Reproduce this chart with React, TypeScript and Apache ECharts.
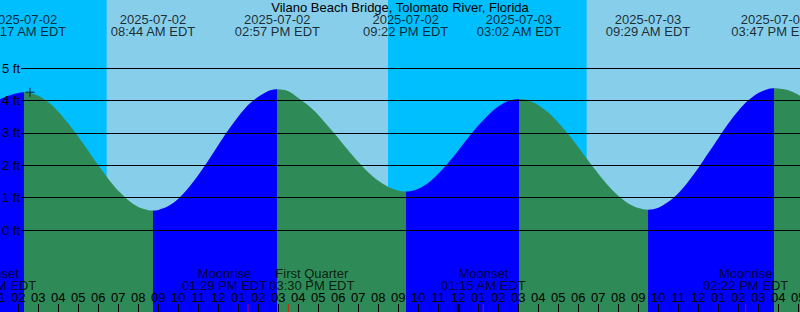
import React, { useEffect, useRef } from 'react';
import * as echarts from 'echarts';

const TITLE = 'Vilano Beach Bridge, Tolomato River, Florida';

// Tide extremes (local time EDT) and heights in ft
const tideTimes = [
  '2025-07-02 02:17', '2025-07-02 08:44', '2025-07-02 14:57', '2025-07-02 21:22',
  '2025-07-03 03:02', '2025-07-03 09:29', '2025-07-03 15:47',
];
const tideLevels = [4.26, 0.6, 4.35, 1.19, 4.05, 0.63, 4.38];
const tideKinds = ['H', 'L', 'H', 'L', 'H', 'L', 'H'];

// Curve samples: hours since 2025-07-02 00:00, height in ft
const curveHours = [
  1.0, 1.5, 2.0,
  2.5, 3.0, 3.5, 4.0, 4.5, 5.0, 5.5, 6.0, 6.5, 7.0, 7.5, 8.0, 8.5,
  9.0, 9.5, 10.0, 10.5, 11.0, 11.5, 12.0, 12.5, 13.0, 13.5, 14.0, 14.5,
  15.5, 16.0, 16.5, 17.0, 17.5, 18.0, 18.5, 19.0, 19.5, 20.0, 20.5, 21.0,
  21.8, 22.2, 22.6, 23.0, 23.5, 24.0, 24.5, 25.0, 25.5, 26.0, 26.5,
  27.5, 28.0, 28.5, 29.0, 29.5, 30.0, 30.5, 31.0, 31.5, 32.0, 32.5, 33.0,
  34.0, 34.5, 35.0, 35.5, 36.0, 36.5, 37.0, 37.5, 38.0, 38.5, 39.0, 39.5,
  40.2, 40.6, 41.0, 41.5, 42.0,
];
const curveLevels = [
  4.02, 4.15, 4.24,
  4.25, 4.15, 3.95, 3.66, 3.29, 2.88, 2.44, 2.0, 1.58, 1.21, 0.92, 0.71, 0.61,
  0.62, 0.74, 0.97, 1.3, 1.7, 2.15, 2.63, 3.09, 3.51, 3.87, 4.12, 4.3,
  4.29, 4.08, 3.85, 3.56, 3.2, 2.84, 2.46, 2.1, 1.78, 1.52, 1.33, 1.22,
  1.23, 1.34, 1.51, 1.74, 2.08, 2.46, 2.86, 3.23, 3.56, 3.82, 3.99,
  4.01, 3.86, 3.63, 3.32, 2.96, 2.56, 2.14, 1.74, 1.37, 1.06, 0.82, 0.68,
  0.69, 0.87, 1.14, 1.5, 1.92, 2.38, 2.84, 3.29, 3.69, 4.01, 4.24, 4.36,
  4.36, 4.3, 4.18, 4.0, 3.78,
];

// Moon events
const moonTimes = ['2025-07-02 00:47', '2025-07-02 13:29', '2025-07-02 15:30', '2025-07-03 01:15', '2025-07-03 14:22'];
const moonNames = ['Moonset', 'Moonrise', 'First Quarter', 'Moonset', 'Moonrise'];

// Night intervals (sunset -> sunrise)
const nightStarts = ['2025-07-01 20:29', '2025-07-02 20:29'];
const nightEnds = ['2025-07-02 06:25', '2025-07-03 06:25'];

// Day boundaries
const midnights = ['2025-07-03 00:00'];

// Marker cross
const markTime = '2025-07-02 02:35';
const markLevel = 4.26;

// Height axis range (ft)
const ftMin = 0;
const ftMax = 5;

const FONT = '"Liberation Sans", Arial, sans-serif';
const DAY = '#87CEEB';
const NIGHT = '#00BFFF';
const RISE = '#0000FF';
const FALL = '#2E8B57';

const X_MIN = 1;
const X_MAX = 42;
const Y_MIN = -2.536;
const Y_MAX = 7.113;

function hoursOf(s: string): number {
  const [d, t] = s.split(' ');
  const day = parseInt(d.split('-')[2], 10);
  const [hh, mm] = t.split(':').map((v) => parseInt(v, 10));
  return (day - 2) * 24 + hh + mm / 60;
}
function pad2(n: number) {
  return String(n).padStart(2, '0');
}
function fmt12(s: string): string {
  const t = s.split(' ')[1];
  const [hh, mm] = t.split(':').map((v) => parseInt(v, 10));
  const h12 = hh % 12 || 12;
  return `${pad2(h12)}:${pad2(mm)} ${hh < 12 ? 'AM' : 'PM'} EDT`;
}

export default function App() {
  const ref = useRef<HTMLDivElement>(null);
  useEffect(() => {
    document.body.style.margin = '0';
    if (!ref.current) return;
    const chart = echarts.init(ref.current, undefined, { renderer: 'svg' });

    const tideHours = tideTimes.map(hoursOf);
    const pts: number[][] = [];
    curveHours.forEach((h, i) => pts.push([h, curveLevels[i]]));
    tideHours.forEach((h, i) => pts.push([h, tideLevels[i]]));
    pts.sort((a, b) => a[0] - b[0]);

    const pieces: any[] = [];
    tideHours.forEach((h, i) => {
      const color = tideKinds[i] === 'H' ? RISE : FALL;
      if (i === 0) pieces.push({ lt: h, color });
      else pieces.push({ gte: tideHours[i - 1], lt: h, color });
    });
    pieces.push({
      gte: tideHours[tideHours.length - 1],
      color: tideKinds[tideKinds.length - 1] === 'H' ? FALL : RISE,
    });

    const tideLabels = tideTimes.map((s) => `${s.split(' ')[0]}\n${fmt12(s)}`);
    const moonLabels = moonTimes.map((s, i) => `${moonNames[i]}\n${fmt12(s)}`);
    const moonHours = moonTimes.map(hoursOf);

    const labelStyle = {
      show: true,
      align: 'center',
      fontSize: 13,
      lineHeight: 12,
      color: '#000',
      fontFamily: FONT,
    };

    const buildMoonData = (offsets: number[]) =>
      moonHours.map((h, i) => ({ value: [h, Y_MIN], label: { offset: [offsets[i], 0] } }));

    const option: any = {
      animation: false,
      backgroundColor: DAY,
      textStyle: { fontFamily: FONT },
      title: {
        text: TITLE,
        left: 'center',
        top: 1,
        padding: 0,
        textStyle: { fontSize: 13, fontWeight: 'normal', color: '#000', lineHeight: 12, fontFamily: FONT },
      },
      grid: [
        { left: -1.667, right: -18.333, top: 0, bottom: 0, containLabel: false, outerBoundsMode: 'none' },
        { left: 21, right: 0, top: 68.33, bottom: 82, containLabel: false, outerBoundsMode: 'none' },
      ],
      xAxis: [
        {
          type: 'value',
          gridIndex: 0,
          min: X_MIN,
          max: X_MAX,
          interval: 1,
          z: 10,
          axisLine: { show: false, onZero: false },
          splitLine: { show: false },
          axisTick: { show: true, inside: true, length: 8, lineStyle: { color: '#000', width: 1 } },
          axisLabel: {
            inside: true,
            margin: 9,
            fontSize: 13,
            lineHeight: 12,
            color: '#000',
            fontFamily: FONT,
            hideOverlap: false,
            formatter: (v: number) => {
              const h = ((Math.round(v) % 24) + 24) % 24;
              return pad2(h % 12 || 12);
            },
          },
        },
        { type: 'value', gridIndex: 1, min: 0, max: 1, show: false, axisLine: { onZero: false } },
      ],
      yAxis: [
        { type: 'value', gridIndex: 0, min: Y_MIN, max: Y_MAX, show: false, axisLine: { onZero: false } },
        {
          type: 'value',
          gridIndex: 1,
          min: ftMin,
          max: ftMax,
          interval: 1,
          z: 10,
          axisLine: { show: false, onZero: false },
          axisTick: { show: false },
          splitLine: { show: true, lineStyle: { color: '#000', width: 1 } },
          axisLabel: { formatter: '{value} ft', fontSize: 13, color: '#000', margin: 1, fontFamily: FONT },
        },
      ],
      visualMap: {
        show: false,
        type: 'piecewise',
        dimension: 0,
        seriesIndex: 1,
        pieces,
      },
      series: [
        {
          type: 'custom',
          xAxisIndex: 0,
          yAxisIndex: 0,
          z: 1,
          silent: true,
          data: nightStarts.map((s, i) => [hoursOf(s), hoursOf(nightEnds[i])]),
          encode: { x: [0, 1] },
          renderItem: (_p: any, api: any) => {
            const a = api.coord([api.value(0), Y_MAX]);
            const b = api.coord([api.value(1), Y_MIN]);
            return {
              type: 'rect',
              shape: { x: a[0], y: a[1], width: b[0] - a[0], height: b[1] - a[1] },
              style: { fill: NIGHT },
            };
          },
        },
        {
          type: 'line',
          xAxisIndex: 0,
          yAxisIndex: 0,
          z: 2,
          silent: true,
          data: pts,
          smooth: 0.3,
          symbol: 'none',
          showSymbol: false,
          lineStyle: { width: 0 },
          areaStyle: { opacity: 1, origin: 'start' },
        },
        {
          type: 'scatter',
          xAxisIndex: 0,
          yAxisIndex: 0,
          z: 6,
          silent: true,
          clip: false,
          data: moonHours.map((h) => [h, Y_MIN]),
          symbol: 'rect',
          symbolSize: [1, 8],
          symbolOffset: [0, -4],
          itemStyle: { color: '#FF0000' },
        },
        {
          type: 'scatter',
          xAxisIndex: 0,
          yAxisIndex: 0,
          z: 6,
          silent: true,
          clip: false,
          data: midnights.map((s) => [hoursOf(s), Y_MIN]),
          symbol: 'rect',
          symbolSize: [3, 8],
          symbolOffset: [0, -4],
          itemStyle: { color: '#000' },
        },
        {
          type: 'scatter',
          xAxisIndex: 0,
          yAxisIndex: 0,
          z: 6,
          silent: true,
          data: [[hoursOf(markTime), markLevel]],
          symbol: 'path://M0,4h9v1h-9zM4,0h1v9h-1z',
          symbolSize: 9,
          itemStyle: { color: '#000' },
        },
        {
          type: 'scatter',
          xAxisIndex: 0,
          yAxisIndex: 0,
          z: 12,
          silent: true,
          clip: false,
          data: tideHours.map((h) => [h, Y_MAX]),
          symbolSize: 1,
          itemStyle: { color: 'rgba(0,0,0,0)' },
          label: {
            ...labelStyle,
            position: 'bottom',
            distance: 12.8,
            formatter: (p: any) => tideLabels[p.dataIndex],
          },
        },
        {
          id: 'moonLabels',
          type: 'scatter',
          xAxisIndex: 0,
          yAxisIndex: 0,
          z: 12,
          silent: true,
          clip: false,
          data: buildMoonData(moonHours.map(() => 0)),
          symbolSize: 1,
          itemStyle: { color: 'rgba(0,0,0,0)' },
          label: {
            ...labelStyle,
            position: 'top',
            distance: 20,
            formatter: (p: any) => moonLabels[p.dataIndex],
          },
        },
      ],
    };
    chart.setOption(option);

    // Push overlapping moon labels apart symmetrically (as the reference does)
    const ctx = document.createElement('canvas').getContext('2d');
    if (ctx) {
      ctx.font = `13px ${FONT}`;
      const widths = moonLabels.map((t) => Math.max(...t.split('\n').map((l) => ctx.measureText(l).width)));
      const centers = moonHours.map((h) => chart.convertToPixel({ xAxisIndex: 0 }, h) as number);
      const pos = centers.slice();
      const gap = 2;
      for (let i = 1; i < pos.length; i++) {
        const need = pos[i - 1] + widths[i - 1] / 2 + gap + widths[i] / 2 - pos[i];
        if (need > 0) {
          pos[i - 1] -= need / 2;
          pos[i] += need / 2;
        }
      }
      const offsets = pos.map((p, i) => p - centers[i]);
      chart.setOption({ series: [{ id: 'moonLabels', data: buildMoonData(offsets) }] });
    }
    return () => chart.dispose();
  }, []);
  return <div ref={ref} style={{ width: 800, height: 312 }} />;
}
